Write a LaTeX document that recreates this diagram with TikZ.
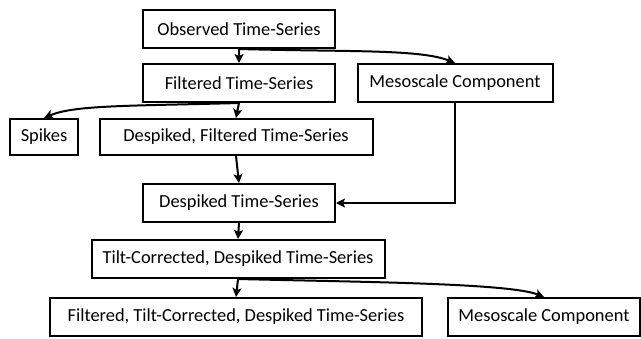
\documentclass[tikz,border=0pt]{standalone}
\usepackage{fontspec}
\setmainfont{Carlito}
\usetikzlibrary{arrows.meta}
\begin{document}
\begin{tikzpicture}[x=1pt,y=-1pt,
  stagebox/.style={draw,line width=2pt,inner sep=0pt,minimum height=38pt,font=\fontsize{18.4}{20}\selectfont},
  flow/.style={line width=2pt,-{Stealth[length=9pt,width=9pt,inset=2pt]}}]
\useasboundingbox (0,0) rectangle (641,338);
\node[stagebox,minimum width=192pt] (obs) at (239,29) {Observed Time-Series};
\node[stagebox,minimum width=192pt] (filt) at (239,83) {Filtered Time-Series};
\node[stagebox,minimum width=195pt] (meso1) at (455,83) {Mesoscale Component};
\node[stagebox,minimum width=68pt,minimum height=36pt] (spk) at (44,137) {Spikes};
\node[stagebox,minimum width=273pt,minimum height=36pt] (dfilt) at (236,137) {Despiked, Filtered Time-Series};
\node[stagebox,minimum width=192pt] (dts) at (239,203) {Despiked Time-Series};
\node[stagebox,minimum width=293pt] (tilt) at (238,259) {Tilt-Corrected, Despiked Time-Series};
\node[stagebox,minimum width=372pt] (ftilt) at (236,317) {Filtered, Tilt-Corrected, Despiked Time-Series};
\node[stagebox,minimum width=192pt] (meso2) at (544,317) {Mesoscale Component};

\draw[flow] (obs.south) -- (filt.north);
\draw[flow] (obs.south) .. controls +(110,3) and +(-35,-14) .. (meso1.north);
\draw[flow] (filt.south) -- (dfilt.north);
\draw[flow] (filt.south) .. controls +(-110,3) and +(30,-13) .. (spk.north);
\draw[flow] (dfilt.south) -- (dts.north);
\draw[flow] (meso1.south) |- (dts.east);
\draw[flow] (dts.south) -- (tilt.north);
\draw[flow] (tilt.south) -- (ftilt.north);
\draw[flow] (tilt.south) .. controls +(120,3) and +(-35,-14) .. (meso2.north);
\end{tikzpicture}
\end{document}
